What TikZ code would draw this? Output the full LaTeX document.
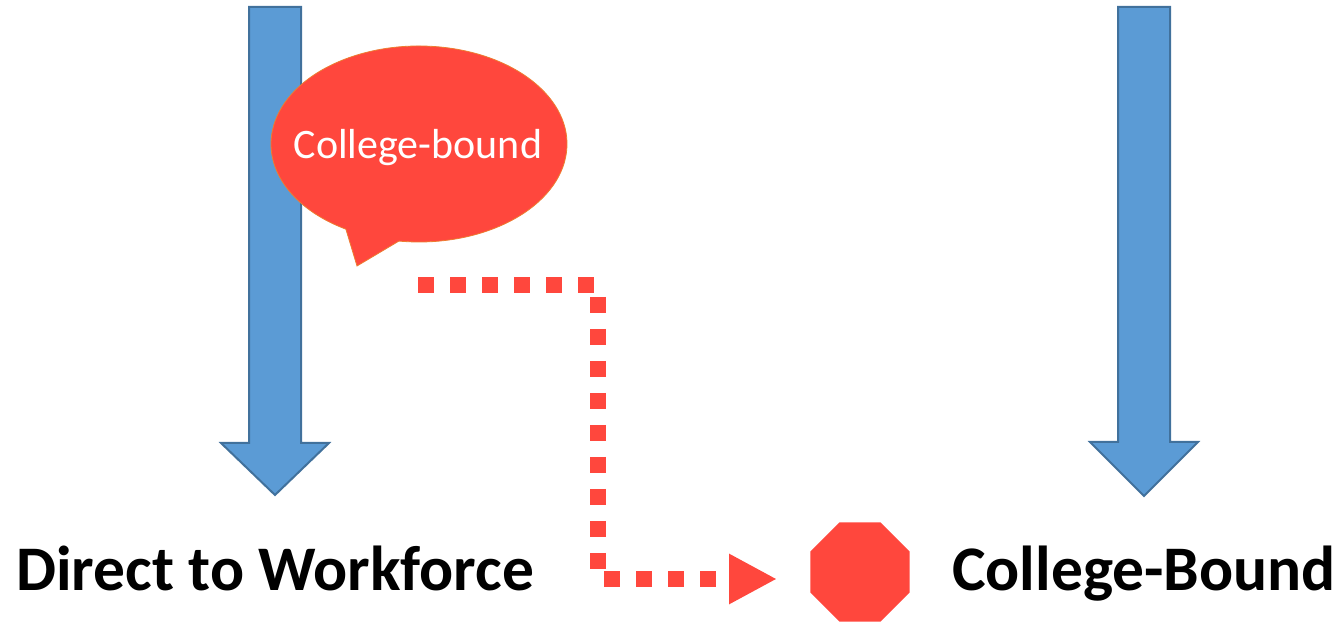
\documentclass[tikz,border=0pt]{standalone}
\usepackage{fontspec}
\setmainfont{Carlito}
\usetikzlibrary{arrows.meta,shapes.geometric}
\definecolor{bluefill}{HTML}{5B9BD5}
\definecolor{bluedraw}{HTML}{41719C}
\definecolor{redfill}{RGB}{255,71,61}
\definecolor{orangeline}{HTML}{ED7D31}
\tikzset{
  downarrow/.style={fill=bluefill,draw=bluedraw,line width=2pt,line join=miter},
  bubble/.style={fill=redfill,draw=orangeline,line width=0.8pt},
  label/.style={font=\fontsize{63.5}{70}\selectfont\bfseries,anchor=base west,inner sep=0pt},
  flow/.style={draw=redfill,line width=16pt,dash pattern=on 16pt off 16pt,
    -{Triangle[length=48pt,width=47pt]}},
  stopsign/.style={regular polygon,regular polygon sides=8,fill=redfill,draw=none,
    minimum size=107.2pt,inner sep=0pt,outer sep=0pt}
}
\begin{document}
\begin{tikzpicture}[x=1pt,y=1pt]
\useasboundingbox (0,0) rectangle (1344,623);
% blue arrows
\draw[downarrow] (249,616) -- (301,616) -- (301,180) -- (329,180) -- (275,128)
  -- (221,180) -- (249,180) -- cycle;
\draw[downarrow] (1118,616) -- (1170,616) -- (1170,181) -- (1198,181) -- (1144,127)
  -- (1090,181) -- (1118,181) -- cycle;
% speech bubble
\draw[bubble] (419,479) ++(262.2:148 and 98)
  arc[start angle=262.2,end angle=600.4,x radius=148,y radius=98]
  -- (357,357) -- cycle;
\node[text=white,font=\fontsize{42}{48}\selectfont,inner sep=0pt,anchor=base] (bubbletext) at (418,464) {College-bound};
% path
\coordinate (start) at (418,338);
\coordinate (c1) at (598,338);
\coordinate (c2) at (598,44);
\node[stopsign] (stop) at (860,51) {};
\coordinate (arrowend) at (777,44);
\draw[flow] (start) -- (c1) -- (c2) -- (arrowend);
% labels
\node[label] (work) at (16,32) {Direct to Workforce};
\node[label] (college) at (952,32) {College-Bound};
\end{tikzpicture}
\end{document}
